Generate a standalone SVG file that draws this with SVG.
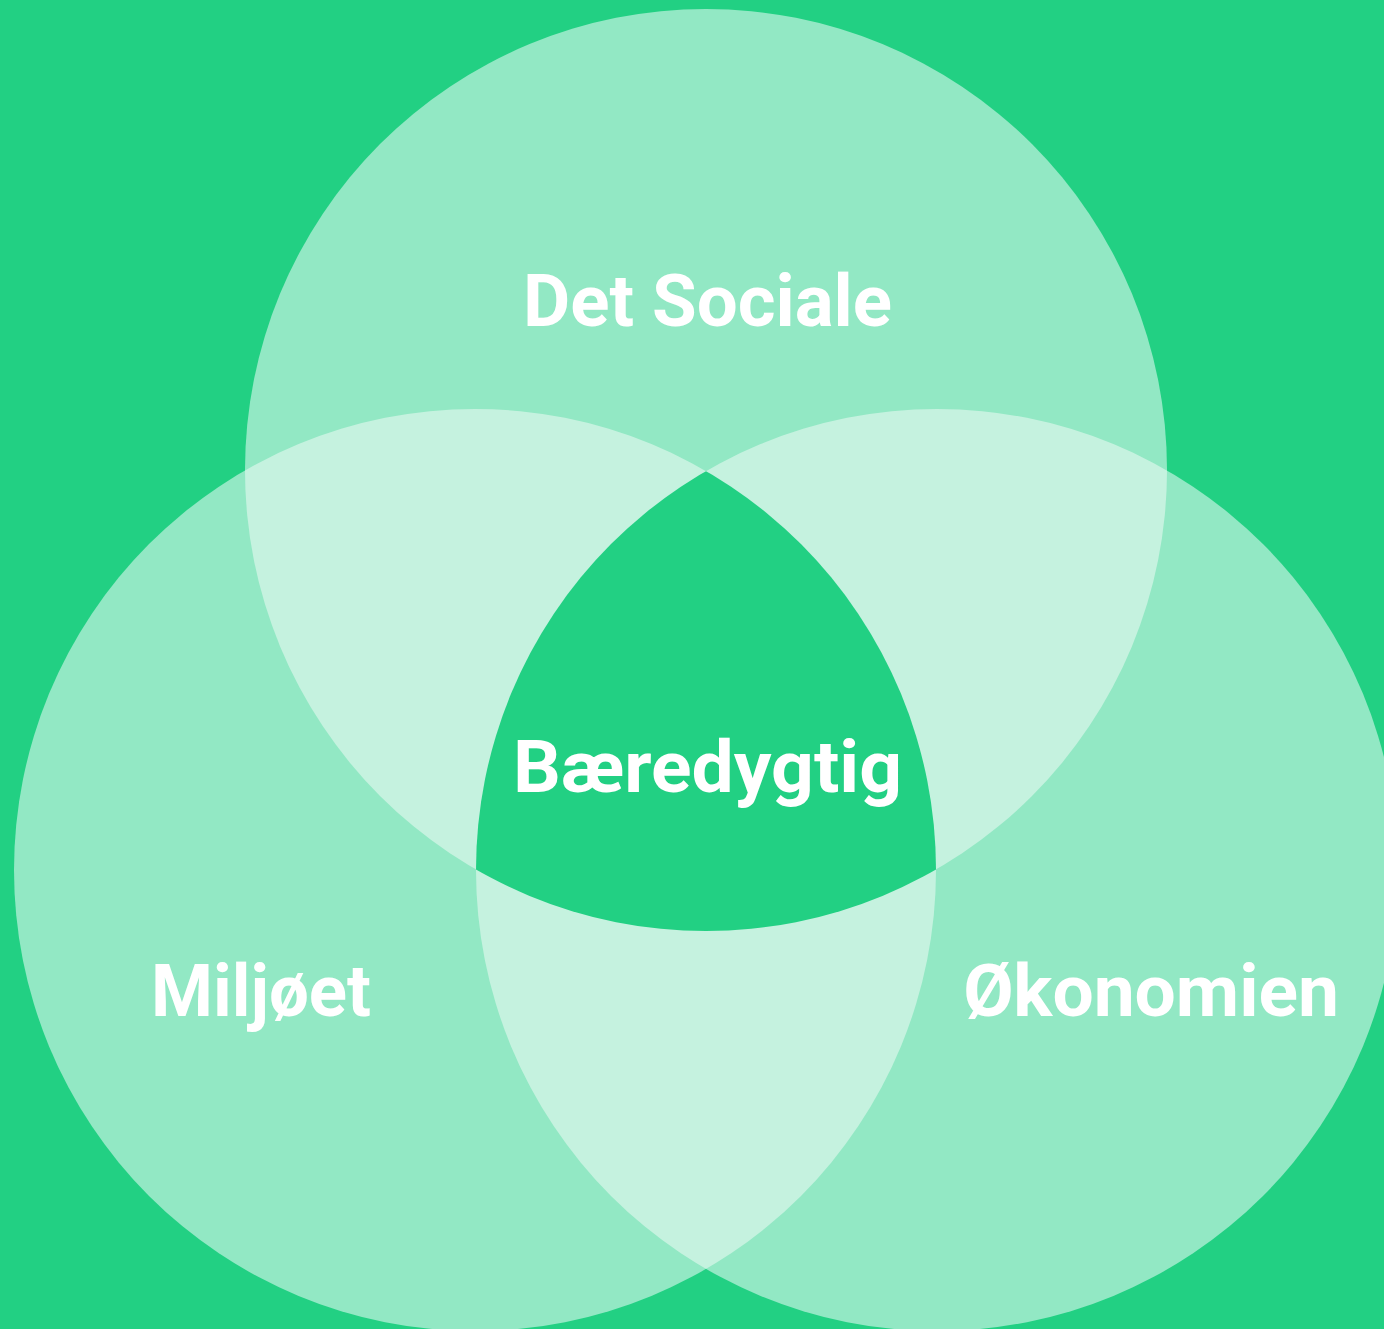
<svg xmlns="http://www.w3.org/2000/svg" width="1384" height="1329" viewBox="0 0 1384 1329">
  <style>
    .single { fill: #92E8C4; }
    .double { fill: #C5F2DF; }
    .triple { fill: #22D083; }
    .label { font-family: Roboto, "Liberation Sans", sans-serif; font-weight: 700; font-size: 72px; fill: #FFFFFF; }
  </style>
  <defs>
    <clipPath id="clipTop"><circle cx="706" cy="470" r="461"/></clipPath>
    <clipPath id="clipLeft"><circle cx="475" cy="870" r="461"/></clipPath>
    <clipPath id="clipRight"><circle cx="937" cy="870" r="461"/></clipPath>
  </defs>
  <rect x="0" y="0" width="1384" height="1329" fill="#22D083"/>
  <g id="social">
    <circle class="single" cx="706" cy="470" r="461"/>
  </g>
  <g id="environment">
    <circle class="single" cx="475" cy="870" r="461"/>
  </g>
  <g id="economy">
    <circle class="single" cx="937" cy="870" r="461"/>
  </g>
  <g id="overlaps">
    <g clip-path="url(#clipLeft)"><circle class="double" cx="706" cy="470" r="461"/></g>
    <g clip-path="url(#clipRight)"><circle class="double" cx="706" cy="470" r="461"/></g>
    <g clip-path="url(#clipRight)"><circle class="double" cx="475" cy="870" r="461"/></g>
  </g>
  <g id="sustainable">
    <g clip-path="url(#clipLeft)"><g clip-path="url(#clipRight)"><circle class="triple" cx="706" cy="470" r="461"/></g></g>
    <text class="label" x="513" y="792" textLength="389" lengthAdjust="spacingAndGlyphs">Bæredygtig</text>
  </g>
  <g id="labels">
    <text class="label" x="523" y="326" textLength="369" lengthAdjust="spacingAndGlyphs">Det Sociale</text>
    <text class="label" x="151" y="1016" textLength="220" lengthAdjust="spacingAndGlyphs">Miljøet</text>
    <text class="label" x="963" y="1016" textLength="376" lengthAdjust="spacingAndGlyphs">Økonomien</text>
  </g>
  <g id="connectors"></g>
</svg>
